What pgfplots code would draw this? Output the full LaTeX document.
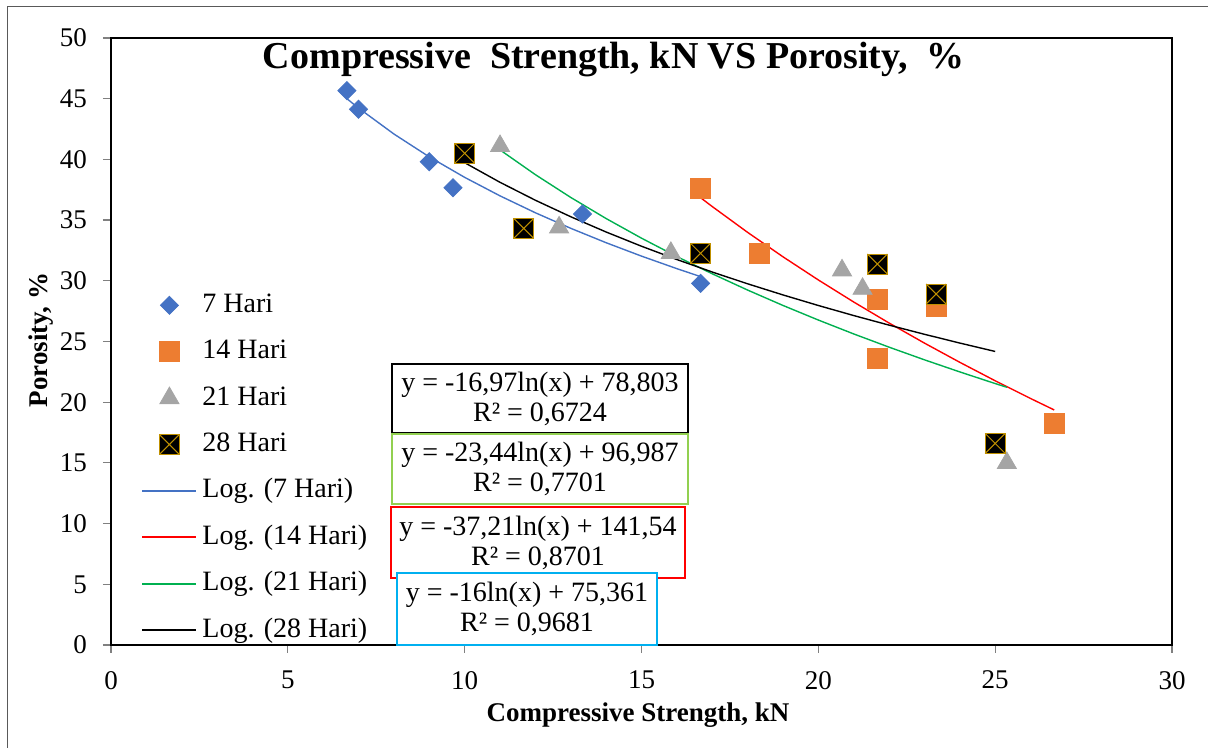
\documentclass[border=0pt]{standalone}
\usepackage{pgfplots}
\pgfplotsset{compat=1.18}
\usepackage{fontspec}
\setmainfont{Liberation Serif}

\definecolor{c7}{HTML}{4472C4}
\definecolor{c14}{HTML}{ED7D31}
\definecolor{c21}{HTML}{A5A5A5}
\definecolor{xgold}{HTML}{BF9000}
\definecolor{fitred}{HTML}{FF0000}
\definecolor{fitgreen}{HTML}{00B050}
\definecolor{boxgreen}{HTML}{92D050}
\definecolor{boxcyan}{HTML}{00B0F0}
\definecolor{framegray}{HTML}{595959}

% filled square with a diagonal cross
\pgfdeclareplotmark{boxx}{%
  \pgfpathrectangle{\pgfqpoint{-\pgfplotmarksize}{-\pgfplotmarksize}}{\pgfqpoint{2\pgfplotmarksize}{2\pgfplotmarksize}}%
  \pgfusepathqfillstroke
  \pgfpathmoveto{\pgfqpoint{-\pgfplotmarksize}{-\pgfplotmarksize}}%
  \pgfpathlineto{\pgfqpoint{\pgfplotmarksize}{\pgfplotmarksize}}%
  \pgfpathmoveto{\pgfqpoint{-\pgfplotmarksize}{\pgfplotmarksize}}%
  \pgfpathlineto{\pgfqpoint{\pgfplotmarksize}{-\pgfplotmarksize}}%
  \pgfusepathqstroke}

\begin{document}
\begin{tikzpicture}
\useasboundingbox (0pt,0pt) rectangle (604pt,374pt);
\draw[framegray, line width=0.5pt] (3.5pt,0pt) -- (3.5pt,370.5pt) -- (604pt,370.5pt);

\begin{axis}[
  at={(55.5pt,51.5pt)}, anchor=south west,
  scale only axis, width=530.5pt, height=303.5pt,
  xmin=0, xmax=30, ymin=0, ymax=50,
  xtick={0,5,...,30}, ytick={0,5,...,50},
  tick pos=left, tick align=outside, major tick length=4pt,
  tick style={gray, line width=0.6pt},
  axis line style={black, line width=1.4pt},
  /pgf/number format/assume math mode=true,
  tick label style={font=\fontsize{13.5}{16}\selectfont},
  yticklabel style={xshift=-4.5pt},
  xticklabel style={yshift=-5.5pt},
  title={Compressive\ \ Strength, kN VS Porosity,\ \ \%},
  title style={at={(axis description cs:0.474,0.944)}, anchor=center,
    font=\bfseries\fontsize{19}{22}\selectfont},
  xlabel={Compressive Strength, kN},
  xlabel style={at={(axis description cs:0.4967,-0.115)}, anchor=center,
    font=\bfseries\fontsize{13.5}{16}\selectfont},
  ylabel={Porosity, \%},
  ylabel style={at={(axis description cs:-0.066,0.5025)}, anchor=center,
    font=\bfseries\fontsize{13.5}{16}\selectfont},
  legend style={draw=none, fill=none,
    at={(axis description cs:0.0283,0.5817)}, anchor=north west,
    font=\fontsize{14}{16}\selectfont,
    row sep=10.2pt, column sep=2.5pt, inner sep=0pt,
    nodes={inner sep=0pt, text height=10pt, text depth=3pt}},
  legend cell align=left,
  legend image code/.code={\draw[mark repeat=2,mark phase=2,#1]
    plot coordinates {(0pt,0pt)(13.5pt,0pt)(27pt,0pt)};},
]
% measured series
\addplot[only marks, mark=square*, mark size=3.2pt,
  mark options={rotate=45, fill=c7, draw=c7}] coordinates {
  (6.67,45.66) (7.00,44.13) (9.00,39.81) (9.67,37.67) (13.33,35.50) (16.67,29.79)};
\addlegendentry{7 Hari}
\addplot[only marks, mark=square*, mark size=5pt,
  mark options={fill=c14, draw=c14}] coordinates {
  (16.67,37.60) (18.33,32.29) (21.67,28.48) (21.67,23.60) (23.33,27.87) (26.67,18.26)};
\addlegendentry{14 Hari}
\addplot[only marks, mark=triangle*, mark size=5.5pt,
  mark options={fill=c21, draw=c21}] coordinates {
  (11.00,41.10) (12.67,34.40) (15.83,32.30) (20.67,30.86) (21.25,29.34) (25.33,14.99)};
\addlegendentry{21 Hari}
\addplot[only marks, mark=boxx, mark size=5pt,
  mark options={fill=black, draw=xgold, line width=0.5pt}] coordinates {
  (10.00,40.50) (11.67,34.32) (16.67,32.26) (21.67,31.38) (23.33,28.91) (25.00,16.60)};
\addlegendentry{28 Hari}

% logarithmic trend lines
\addplot[draw=c7, line width=0.7pt, no marks, forget plot] coordinates {
  (6.67,44.999) (7,44.226) (8,42.090) (9,40.205) (10,38.520) (11,36.995)
  (12,35.602) (13,34.322) (14,33.136) (15,32.032) (16,31.000) (16.67,30.343)};
\addplot[draw=fitred, line width=0.7pt, no marks, forget plot] coordinates {
  (16.67,36.846) (17,36.116) (18,33.989) (19,31.977) (20,30.069) (21,28.253)
  (22,26.522) (23,24.868) (24,23.285) (25,21.765) (26,20.306) (26.67,19.360)};
\addplot[draw=fitgreen, line width=0.7pt, no marks, forget plot] coordinates {
  (11,40.780) (12,38.741) (13,36.865) (14,35.127) (15,33.510) (16,31.997)
  (17,30.577) (18,29.237) (19,27.969) (20,26.767) (21,25.623) (22,24.533)
  (23,23.491) (24,22.494) (25,21.536) (25.33,21.229)};
\addplot[draw=black, line width=0.7pt, no marks, forget plot] coordinates {
  (10,39.728) (11,38.111) (12,36.634) (13,35.276) (14,34.018) (15,32.847)
  (16,31.752) (17,30.723) (18,29.753) (19,28.836) (20,27.965) (21,27.137)
  (22,26.348) (23,25.594) (24,24.871) (25,24.179)};

\addlegendimage{draw=c7, line width=1pt, no marks}
\addlegendentry{Log. (7 Hari)}
\addlegendimage{draw=fitred, line width=1pt, no marks}
\addlegendentry{Log. (14 Hari)}
\addlegendimage{draw=fitgreen, line width=1pt, no marks}
\addlegendentry{Log. (21 Hari)}
\addlegendimage{draw=black, line width=1pt, no marks}
\addlegendentry{Log. (28 Hari)}
\end{axis}

% trend line equations
\begin{scope}[every node/.style={fill=white, inner sep=0pt, align=center,
    font=\fontsize{14}{15}\selectfont}]
\node[draw=black, line width=1.3pt, minimum width=148pt, minimum height=34.5pt]
  at (270pt,174.75pt) {y = -16,97ln(x) + 78,803\\R² = 0,6724};
\node[draw=boxgreen, line width=1.3pt, minimum width=148pt, minimum height=35pt]
  at (270pt,139.5pt) {y = -23,44ln(x) + 96,987\\R² = 0,7701};
\node[draw=red, line width=1.3pt, minimum width=147pt, minimum height=35.5pt]
  at (269pt,102.75pt) {y = -37,21ln(x) + 141,54\\R² = 0,8701};
\node[draw=boxcyan, line width=1.3pt, minimum width=130pt, minimum height=36pt]
  at (263.5pt,69.5pt) {y = -16ln(x) + 75,361\\R² = 0,9681};
\end{scope}
\end{tikzpicture}
\end{document}
